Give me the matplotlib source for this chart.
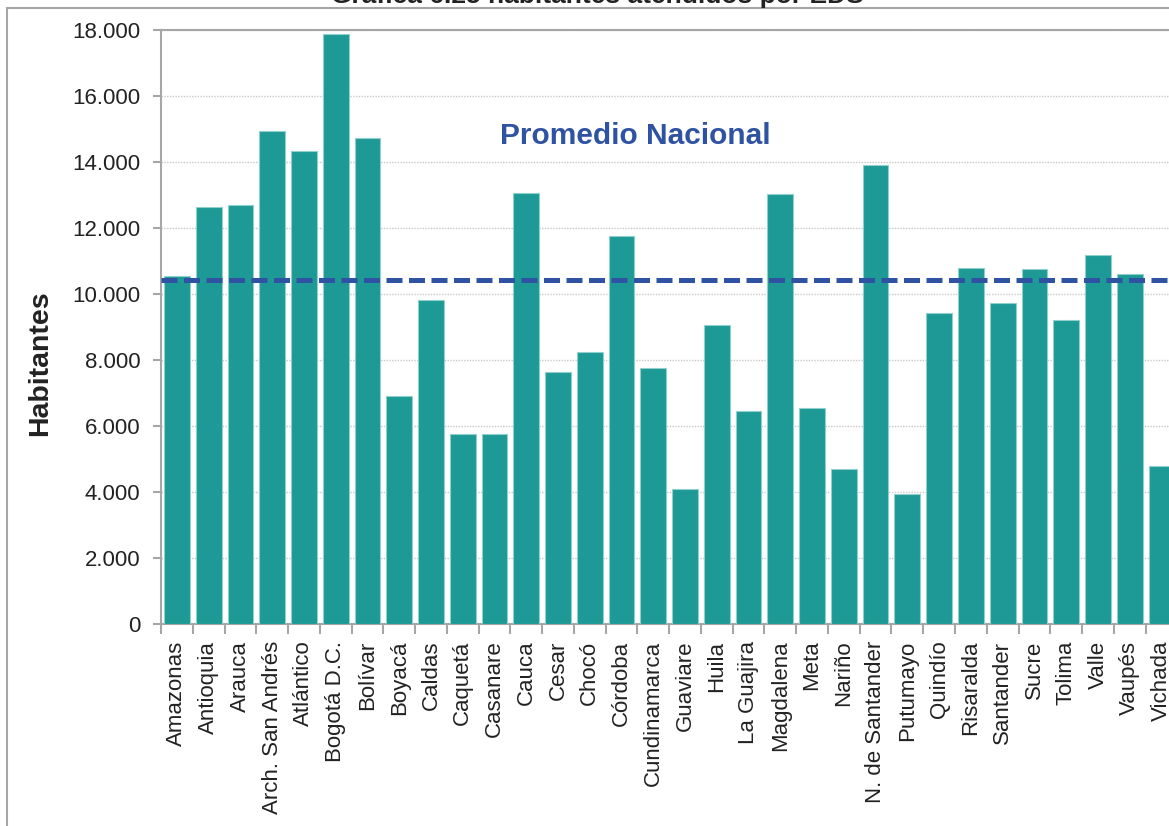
import matplotlib
matplotlib.use("Agg")
import matplotlib.pyplot as plt
import numpy as np
from matplotlib.patches import Rectangle

departamentos = ["Amazonas", "Antioquia", "Arauca", "Arch. San Andrés", "Atlántico",
                 "Bogotá D.C.", "Bolívar", "Boyacá", "Caldas", "Caquetá", "Casanare",
                 "Cauca", "Cesar", "Chocó", "Córdoba", "Cundinamarca", "Guaviare",
                 "Huila", "La Guajira", "Magdalena", "Meta", "Nariño", "N. de Santander",
                 "Putumayo", "Quindío", "Risaralda", "Santander", "Sucre", "Tolima",
                 "Valle", "Vaupés", "Vichada"]
habitantes = [10550, 12630, 12690, 14930, 14310, 17870, 14700, 6910, 9820, 5750, 5740,
              13040, 7630, 8230, 11760, 7740, 4080, 9050, 6440, 13020, 6540, 4680, 13910,
              3930, 9430, 10770, 9720, 10750, 9200, 11170, 10610, 4790]
promedio_nacional = 10420
y_ticks = [0, 2000, 4000, 6000, 8000, 10000, 12000, 14000, 16000, 18000]
y_tick_labels = ["0", "2.000", "4.000", "6.000", "8.000", "10.000", "12.000",
                 "14.000", "16.000", "18.000"]

plt.rcParams['font.family'] = ['Liberation Sans', 'DejaVu Sans']

W, H = 1169, 826
fig = plt.figure(figsize=(W / 100, H / 100), dpi=100)

# outer frame
fig.patches.append(Rectangle((7 / W, -0.1), 1.2, 1 - 8 / H + 0.1, transform=fig.transFigure,
                             fill=False, edgecolor='#a6a6a6', linewidth=1.5))

left, right, bottom, top = 161, 161 + 32 * 31.76, 624, 29.5
ax = fig.add_axes([left / W, 1 - bottom / H, (right - left) / W, (bottom - top) / H])

x = np.arange(len(departamentos))
ax.bar(x, habitantes, width=0.81, color='#1d9a96', edgecolor='#8fd0cc', linewidth=0.8, zorder=3)

ax.axhline(promedio_nacional, color='#2f52a3', linewidth=3.6, dashes=(3.2, 1.3), zorder=4)
ax.text(14.45, 14545, "Promedio Nacional", color='#2f52a3', fontsize=21.5,
        fontweight='bold', ha='center', va='baseline', zorder=5)

ax.set_xlim(-0.5, len(departamentos) - 0.5)
ax.set_ylim(0, 18000)
ax.set_yticks(y_ticks)
ax.set_yticklabels(y_tick_labels, fontsize=16, color='#222222')
ax.set_xticks(x)
ax.set_xticklabels(departamentos, rotation=90, fontsize=16, color='#222222')
ax.set_xticks(np.arange(-0.5, len(departamentos)), minor=True)
ax.tick_params(axis='x', which='major', length=0, pad=12)
ax.tick_params(axis='x', which='minor', length=7, color='#a6a6a6', width=1.5)
ax.tick_params(axis='y', length=6, color='#a6a6a6', width=1.5, pad=9)

ax.grid(axis='y', linestyle=(0, (1, 1)), color='#c8c8c8', linewidth=1, zorder=0)
for side in ['left', 'bottom', 'top', 'right']:
    ax.spines[side].set_color('#a6a6a6')
    ax.spines[side].set_linewidth(1.5)

fig.text(40 / W, 1 - 363 / H, "Habitantes", rotation=90, fontsize=20.5, fontweight='bold',
         ha='center', va='center', color='#222222')

fig.text(597 / W, 1 - 3 / H, "Gráfica 6.25 habitantes atendidos por EDS", fontsize=19,
         fontweight='bold', ha='center', va='baseline', color='#222222')

fig.savefig("out.png", dpi=100)
